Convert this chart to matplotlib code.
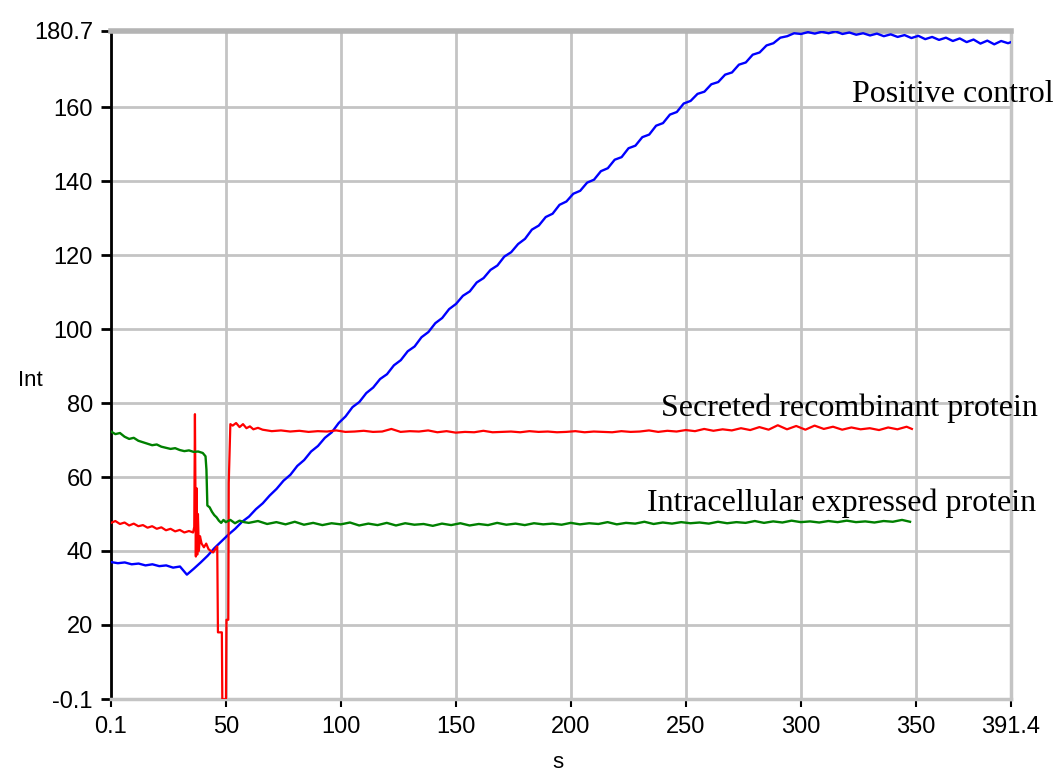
import numpy as np
import matplotlib
matplotlib.use('Agg')
import matplotlib.pyplot as plt

# axis ticks as shown on the instrument plot
xticks = [0.1, 50, 100, 150, 200, 250, 300, 350, 391.4]
xtick_labels = ['0.1', '50', '100', '150', '200', '250', '300', '350', '391.4']
yticks = [-0.1, 20, 40, 60, 80, 100, 120, 140, 160, 180.7]
ytick_labels = ['-0.1', '20', '40', '60', '80', '100', '120', '140', '160', '180.7']

# positive control (blue), sampled every 3 s
pos_x = list(np.arange(0.1, 391, 3)) + [391.4]
pos_y = [37.0, 36.7, 36.9, 36.4, 36.6, 36.1, 36.4, 35.9, 36.1, 35.5,
         35.8, 33.6, 35.2, 36.9, 38.7, 40.8, 42.6, 44.4, 46.0, 47.9,
         49.3, 51.3, 52.9, 55.0, 56.8, 59.0, 60.6, 63.0, 64.6, 66.9,
         68.4, 70.6, 72.1, 74.6, 76.4, 78.9, 80.3, 82.7, 84.2, 86.5,
         87.8, 90.2, 91.6, 94.0, 95.3, 97.8, 99.2, 101.6, 103.0, 105.4,
         106.8, 109.0, 110.2, 112.6, 113.8, 116.0, 117.2, 119.6, 120.8, 123.0,
         124.4, 126.9, 128.0, 130.3, 131.2, 133.6, 134.5, 136.6, 137.4, 139.6,
         140.4, 142.7, 143.5, 145.8, 146.5, 148.9, 149.6, 151.9, 152.6, 155.0,
         155.7, 158.0, 158.7, 161.0, 161.7, 163.6, 164.2, 166.2, 166.8, 168.8,
         169.4, 171.5, 172.1, 174.2, 174.8, 176.7, 177.3, 178.8, 179.2, 180.0,
         179.8, 180.3, 179.9, 180.4, 180.0, 180.5, 179.8, 180.2, 179.6, 180.0,
         179.4, 179.9, 179.2, 179.7, 179.0, 179.5, 178.7, 179.3, 178.4, 179.0,
         178.2, 178.8, 177.9, 178.6, 177.6, 178.3, 177.2, 178.0, 177.0, 177.9,
         177.3, 177.6]

# secreted recombinant protein (red)
sec_x_head = [0.1, 2, 4, 6, 8, 10, 12, 14, 16, 18, 20, 22, 24, 26, 28, 30, 32, 34,
              35.8, 36.3, 36.6, 37.0, 37.3, 37.6, 37.9, 38.3, 38.8, 39.5,
              40.5, 41.5, 42.5, 43.5, 44.5, 45.5, 46.3, 46.6,
              48.3, 48.5, 50.1, 50.3, 51.1, 51.3, 52.0,
              53, 54.5, 56, 57.5, 59, 60.5, 62, 64]
sec_y_head = [47.6, 48.1, 47.3, 47.7, 46.9, 47.4, 46.7, 47.0, 46.3, 46.7, 46.0, 46.4,
              45.6, 46.0, 45.3, 45.7, 45.0, 45.4,
              45.0, 46.5, 77.0, 38.5, 57.0, 39.0, 50.0, 40.0, 44.0, 42.0,
              41.0, 42.0, 40.5, 40.0, 39.6, 40.5, 41.2, 18.0,
              18.0, -0.1, -0.1, 21.4, 21.4, 58.4, 74.3,
              73.9, 74.6, 73.5, 74.3, 73.2, 73.7, 72.9, 73.3]
sec_x_tail = list(np.arange(66, 347, 4)) + [348.3]
sec_y_tail = [72.8, 72.4, 72.6, 72.3, 72.5, 72.2, 72.4, 72.3, 72.6, 72.2,
              72.3, 72.5, 72.2, 72.3, 73.0, 72.2, 72.4, 72.3, 72.6, 72.1,
              72.4, 72.0, 72.2, 72.1, 72.5, 72.1, 72.2, 72.3, 72.1, 72.4,
              72.2, 72.3, 72.1, 72.2, 72.4, 72.1, 72.3, 72.2, 72.1, 72.4,
              72.2, 72.3, 72.6, 72.2, 72.5, 72.3, 72.7, 72.4, 73.0, 72.5,
              72.9, 72.6, 73.2, 72.7, 73.5, 72.8, 74.0, 72.9, 73.8, 72.8,
              73.9, 73.0, 73.6, 72.8, 73.4, 72.9, 73.2, 72.7, 73.4, 72.9,
              73.6, 73.0]

# intracellular expressed protein (green)
int_x_head = [0.1, 2, 4, 6, 8, 10, 12, 14, 16, 18, 20, 22, 24, 26, 28, 30, 32, 34,
              36, 38, 40, 41.2, 41.6, 42.0, 43, 44, 45, 46, 47, 48, 49, 50,
              52, 54, 56, 58]
int_y_head = [72.3, 71.6, 71.9, 70.9, 70.3, 70.6, 69.8, 69.4, 69.0, 68.6, 68.8, 68.2,
              67.9, 67.6, 67.8, 67.3, 67.0, 67.2, 66.8, 66.9, 66.5,
              65.6, 62.0, 52.3, 51.8, 50.6, 49.7, 49.1, 48.2, 47.6, 48.4, 47.8,
              48.4, 47.5, 48.2, 47.8]
int_x_tail = list(np.arange(60, 347, 4)) + [347.5]
int_y_tail = [47.6, 48.1, 47.3, 47.8, 47.2, 47.9, 47.1, 47.6, 47.0, 47.5,
              47.2, 47.7, 46.9, 47.4, 47.0, 47.6, 46.9, 47.5, 47.1, 47.3,
              46.8, 47.4, 47.0, 47.5, 46.9, 47.3, 47.0, 47.6, 47.1, 47.4,
              47.0, 47.5, 47.2, 47.4, 47.1, 47.6, 47.2, 47.5, 47.3, 47.8,
              47.2, 47.6, 47.4, 47.9, 47.3, 47.7, 47.4, 47.8, 47.5, 47.7,
              47.4, 47.9, 47.5, 47.8, 47.6, 48.1, 47.6, 48.0, 47.7, 48.2,
              47.8, 48.0, 47.7, 48.1, 47.8, 48.2, 47.8, 48.0, 47.7, 48.1,
              47.9, 48.4, 47.9]

tick_font = ['Liberation Sans Narrow', 'Liberation Sans', 'DejaVu Sans']
note_font = ['Liberation Serif', 'DejaVu Serif']

fig = plt.figure(figsize=(10.6, 7.72), dpi=100)
ax = fig.add_axes([0.1047, 0.0942, 0.8491, 0.8661])

ax.plot(pos_x, pos_y, color='#0000ff', lw=1.7, zorder=3)
ax.plot(sec_x_head + sec_x_tail, sec_y_head + sec_y_tail, color='#ff0000', lw=1.6, zorder=3)
ax.plot(int_x_head + int_x_tail, int_y_head + int_y_tail, color='#008000', lw=1.7, zorder=3)

ax.set_xlim(xticks[0], xticks[-1])
ax.set_ylim(yticks[0], yticks[-1])
ax.set_xticks(xticks)
ax.set_xticklabels(xtick_labels)
ax.set_yticks(yticks)
ax.set_yticklabels(ytick_labels)
for lab in ax.get_xticklabels() + ax.get_yticklabels():
    lab.set_family(tick_font)
    lab.set_fontsize(17)

ax.grid(True, color='#c4c4c4', lw=2, zorder=0)
ax.set_axisbelow(True)
ax.tick_params(axis='y', direction='out', length=7, width=2, pad=6, color='black')
ax.tick_params(axis='x', direction='out', length=6, width=1.5, pad=6, color='black')

for side in ['right', 'bottom']:
    ax.spines[side].set_color('#c4c4c4')
    ax.spines[side].set_linewidth(2.5)
ax.spines['top'].set_color('#b4b4b4')
ax.spines['top'].set_linewidth(4)
ax.spines['left'].set_color('black')
ax.spines['left'].set_linewidth(2)

ax.text(-0.09, 0.477, 'Int', transform=ax.transAxes, ha='center', va='center',
        fontsize=16, family=tick_font)
ax.text(0.497, -0.094, 's', transform=ax.transAxes, ha='center', va='center',
        fontsize=16, family=tick_font)

ax.text(322.3, 161.5, 'Positive control', fontsize=23, family=note_font,
        va='baseline', ha='left', clip_on=False)
ax.text(239.2, 76.5, 'Secreted recombinant protein', fontsize=23, family=note_font,
        va='baseline', ha='left', clip_on=False)
ax.text(233.0, 50.9, 'Intracellular expressed protein', fontsize=23, family=note_font,
        va='baseline', ha='left', clip_on=False)

fig.savefig('out.png', dpi=100)
